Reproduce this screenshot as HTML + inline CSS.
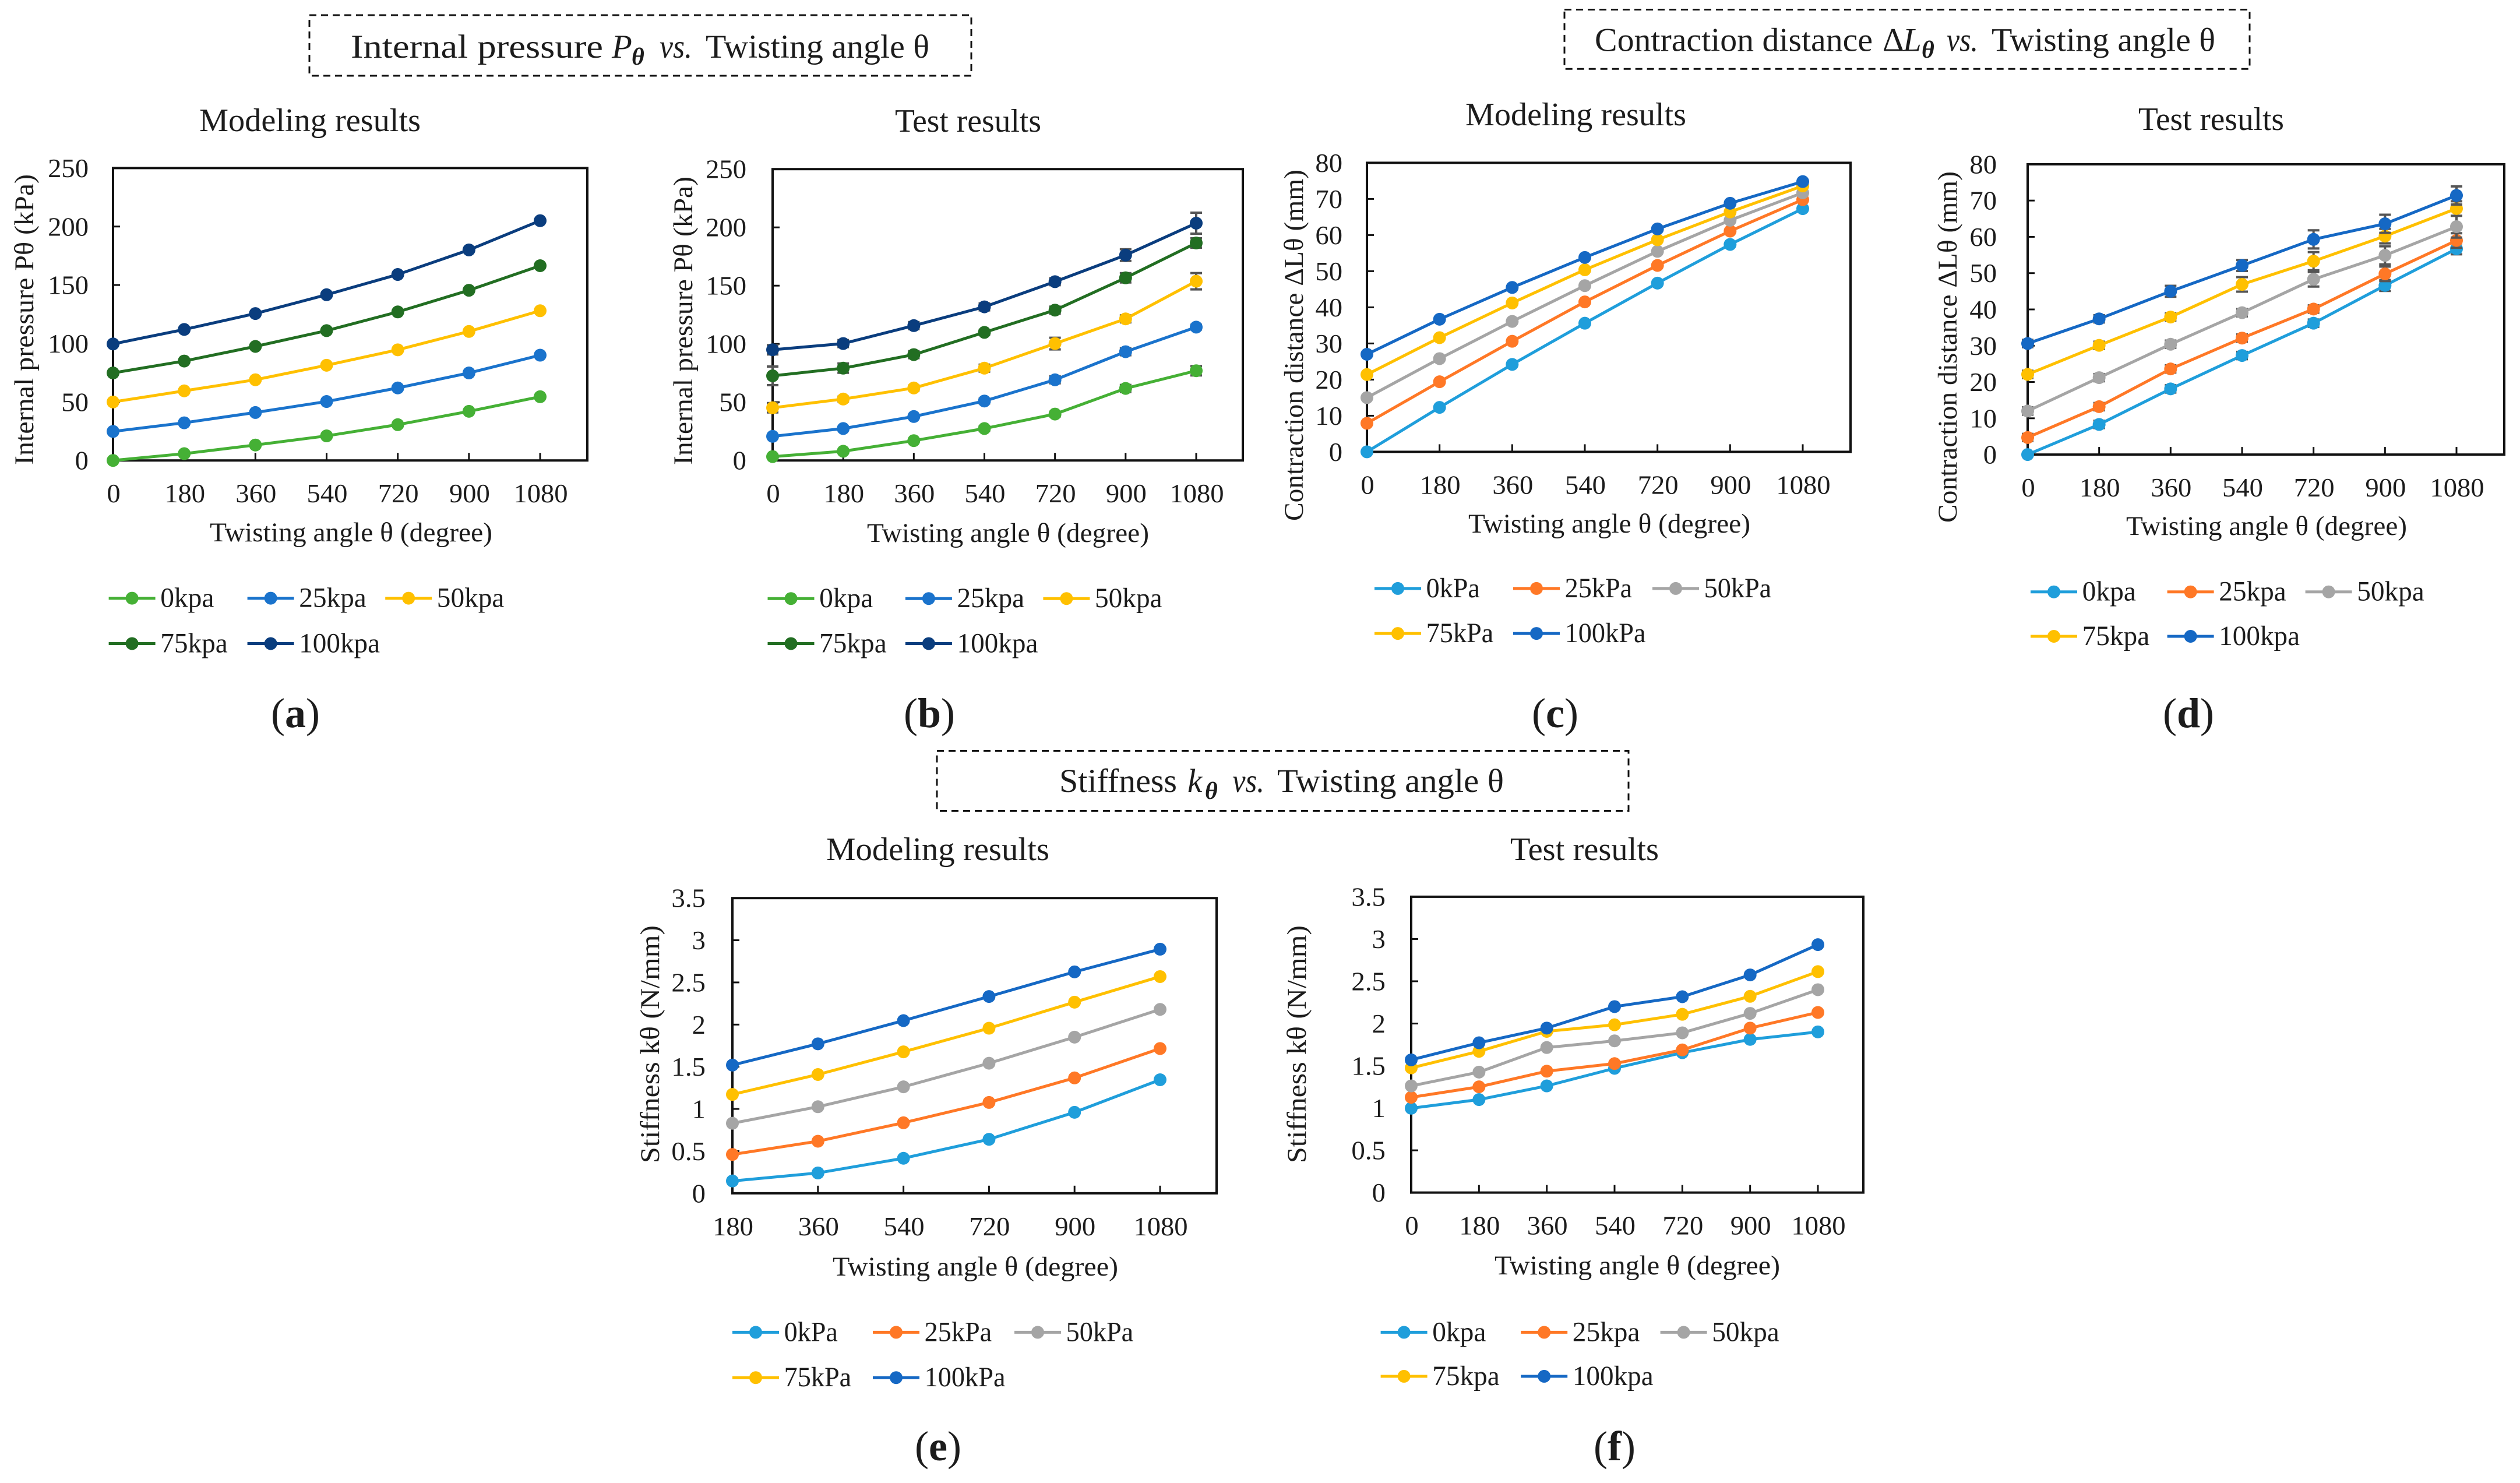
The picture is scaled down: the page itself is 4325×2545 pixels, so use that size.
<!DOCTYPE html>
<html lang="en">
<head>
<meta charset="utf-8">
<title>Internal pressure, contraction distance and stiffness vs. twisting angle</title>
<style>
html,body{margin:0;padding:0;background:#fff;}
svg{display:block;}
text{font-family:"Liberation Serif",serif;fill:#1c1c1c;}
.hd{font-size:57px;}
.sub{font-size:56px;}
.axt{font-size:47px;}
.it{font-style:italic;}
.b{font-weight:bold;}
.dash{fill:none;stroke:#111;stroke-width:3;stroke-dasharray:12 8;}
.let{font-size:72px;text-anchor:middle;}
</style>
</head>
<body>
<svg id="fig" xmlns="http://www.w3.org/2000/svg" width="4325" height="2545" viewBox="0 0 4325 2545">
<rect x="0" y="0" width="4325" height="2545" fill="#fff"/>

<rect class="dash" x="531" y="26" width="1136" height="104"/>
<g>
<text class="hd" x="602" y="99" textLength="433" lengthAdjust="spacingAndGlyphs">Internal pressure</text>
<text class="hd it" x="1050" y="99">P</text>
<text class="it b" style="font-size:42px" x="1084" y="111">θ</text>
<text class="hd it" x="1132" y="99" textLength="56" lengthAdjust="spacingAndGlyphs">vs.</text>
<text class="hd" x="1211" y="99" textLength="384" lengthAdjust="spacingAndGlyphs">Twisting angle θ</text>
</g>

<rect class="dash" x="2685" y="16.5" width="1176" height="101.7"/>
<g>
<text class="hd" x="2737" y="87.5" textLength="477" lengthAdjust="spacingAndGlyphs">Contraction distance</text>
<text class="hd" x="3231" y="87.5">Δ</text>
<text class="hd it" x="3266" y="87.5">L</text>
<text class="it b" style="font-size:42px" x="3298" y="99">θ</text>
<text class="hd it" x="3341" y="87.5" textLength="54" lengthAdjust="spacingAndGlyphs">vs.</text>
<text class="hd" x="3418" y="87.5" textLength="384" lengthAdjust="spacingAndGlyphs">Twisting angle θ</text>
</g>

<rect class="dash" x="1608" y="1288.5" width="1187" height="103"/>
<g>
<text class="hd" x="1818" y="1359" textLength="202" lengthAdjust="spacingAndGlyphs">Stiffness</text>
<text class="hd it" x="2038" y="1359">k</text>
<text class="it b" style="font-size:42px" x="2068" y="1371">θ</text>
<text class="hd it" x="2115" y="1359" textLength="55" lengthAdjust="spacingAndGlyphs">vs.</text>
<text class="hd" x="2192" y="1359" textLength="389" lengthAdjust="spacingAndGlyphs">Twisting angle θ</text>
</g>

<text class="sub" x="342" y="225" textLength="380" lengthAdjust="spacingAndGlyphs">Modeling results</text>
<text class="sub" x="1536" y="226" textLength="251" lengthAdjust="spacingAndGlyphs">Test results</text>
<text class="sub" x="2515" y="215" textLength="379" lengthAdjust="spacingAndGlyphs">Modeling results</text>
<text class="sub" x="3670" y="223" textLength="250" lengthAdjust="spacingAndGlyphs">Test results</text>
<text class="sub" x="1418" y="1476" textLength="383" lengthAdjust="spacingAndGlyphs">Modeling results</text>
<text class="sub" x="2592" y="1476" textLength="255" lengthAdjust="spacingAndGlyphs">Test results</text>

<text class="axt" x="360" y="929" textLength="485" lengthAdjust="spacingAndGlyphs">Twisting angle θ (degree)</text>
<text class="axt" x="1488" y="930" textLength="484" lengthAdjust="spacingAndGlyphs">Twisting angle θ (degree)</text>
<text class="axt" x="2520" y="914" textLength="484" lengthAdjust="spacingAndGlyphs">Twisting angle θ (degree)</text>
<text class="axt" x="3649" y="918" textLength="482" lengthAdjust="spacingAndGlyphs">Twisting angle θ (degree)</text>
<text class="axt" x="1429" y="2189" textLength="490" lengthAdjust="spacingAndGlyphs">Twisting angle θ (degree)</text>
<text class="axt" x="2565" y="2187" textLength="490" lengthAdjust="spacingAndGlyphs">Twisting angle θ (degree)</text>

<text class="axt" transform="translate(57,798) rotate(-90)" textLength="499" lengthAdjust="spacingAndGlyphs">Internal pressure Pθ (kPa)</text>
<text class="axt" transform="translate(1188,798) rotate(-90)" textLength="495" lengthAdjust="spacingAndGlyphs">Internal pressure Pθ (kPa)</text>
<text class="axt" transform="translate(2236,894) rotate(-90)" textLength="603" lengthAdjust="spacingAndGlyphs">Contraction distance ΔLθ (mm)</text>
<text class="axt" transform="translate(3358,897) rotate(-90)" textLength="603" lengthAdjust="spacingAndGlyphs">Contraction distance ΔLθ (mm)</text>
<text class="axt" transform="translate(1131,1996) rotate(-90)" textLength="408" lengthAdjust="spacingAndGlyphs">Stiffness kθ  (N/mm)</text>
<text class="axt" transform="translate(2241,1996) rotate(-90)" textLength="408" lengthAdjust="spacingAndGlyphs">Stiffness kθ  (N/mm)</text>

<text class="let" x="507" y="1248">(<tspan class="b">a</tspan>)</text>
<text class="let" x="1595" y="1248">(<tspan class="b">b</tspan>)</text>
<text class="let" x="2669" y="1248">(<tspan class="b">c</tspan>)</text>
<text class="let" x="3756" y="1248">(<tspan class="b">d</tspan>)</text>
<text class="let" x="1610" y="2506">(<tspan class="b">e</tspan>)</text>
<text class="let" x="2771" y="2506">(<tspan class="b">f</tspan>)</text>
</svg>

<script>
// Shared categories and tick labels
const anglesFull = ['0','180','360','540','720','900','1080'];
const anglesFrom180 = ['180','360','540','720','900','1080'];
const pressureTicks = [0,50,100,150,200,250];
const contractionTicks = [0,10,20,30,40,50,60,70,80];
const stiffnessTicks = [0,0.5,1,1.5,2,2.5,3,3.5];
const lowerKpaNames = ['0kpa','25kpa','50kpa','75kpa','100kpa'];
const upperKPaNames = ['0kPa','25kPa','50kPa','75kPa','100kPa'];

// Panel (a) internal pressure, modeling
const a0 = [0,5.8,13.2,21,30.6,42,54.5];
const a25 = [24.8,32.2,41,50.4,62,74.8,90];
const a50 = [50,59.5,69,81.4,94.6,110.3,128];
const a75 = [74.8,85,97.5,111,127,145.5,166.5];
const a100 = [99.6,112,125.6,141.7,159,180,205];

// Panel (b) internal pressure, test
const b0 = [3.3,7.9,17,27.4,39.8,61.8,77];
const b25 = [20.7,27.4,37.7,51,69.2,93.3,114.4];
const b50 = [45.2,52.7,62.2,79.2,100.3,121.5,153.8];
const b75 = [72.6,79.2,90.8,109.9,129,156.7,186.6];
const b100 = [95,100.3,115.7,131.8,153.4,176.2,203.6];
const bErr0 = [1,1,1,2,2,3,4];
const bErr25 = [1,1,1,2,3,3,2];
const bErr50 = [4,2,2,3,5,3,7];
const bErr75 = [8,4,3,2,3,4,4];
const bErr100 = [4,3,3,3,3,5,9];

// Panel (c) contraction distance, modeling
const c0 = [0,12.3,24.2,35.6,46.7,57.4,67.3];
const c25 = [7.9,19.4,30.6,41.5,51.6,61.1,69.8];
const c50 = [15,25.8,36.1,46,55.5,64.1,71.7];
const c75 = [21.4,31.6,41.2,50.4,58.7,66.4,73.6];
const c100 = [27,36.7,45.5,53.8,61.7,68.8,74.8];

// Panel (d) contraction distance, test
const d0 = [0,8.3,18.1,27.3,36.2,46.6,56.7];
const d25 = [4.7,13.2,23.6,32.1,40.1,49.8,59];
const d50 = [12,21.2,30.4,39.1,48.3,54.9,62.8];
const d75 = [22.1,30.1,37.9,46.9,53.3,60.2,67.8];
const d100 = [30.6,37.4,45,52.1,59.3,63.6,71.4];
const dErr0 = [0,1,1,1,1,1.5,1.5];
const dErr25 = [1,1,1,1,1,2,2];
const dErr50 = [1,1,1,1,2,2.5,3];
const dErr75 = [1,1,1,2,2.5,2,2];
const dErr100 = [1,1,1.5,1.5,2.5,2.5,2.5];

// Panel (e) stiffness, modeling
const e0 = [0.146,0.241,0.415,0.64,0.96,1.346];
const e25 = [0.46,0.617,0.836,1.077,1.368,1.716];
const e50 = [0.83,1.026,1.262,1.542,1.851,2.18];
const e75 = [1.172,1.408,1.677,1.957,2.266,2.569];
const e100 = [1.52,1.772,2.047,2.333,2.625,2.894];

// Panel (f) stiffness, test
const f0 = [0.998,1.1,1.262,1.47,1.655,1.812,1.901];
const f25 = [1.127,1.251,1.436,1.526,1.688,1.946,2.131];
const f50 = [1.262,1.425,1.716,1.795,1.89,2.12,2.4];
const f75 = [1.475,1.671,1.907,1.985,2.109,2.322,2.614];
const f100 = [1.57,1.772,1.946,2.2,2.317,2.575,2.933];

const greenPalette = ['#45B035','#1A73CC','#FFC000','#226E22','#0A3D7E'];
const officePalette = ['#1F9EDB','#FF7826','#A5A5A5','#FFC000','#1568C4'];

const panels = [
 {id:'a',cats:anglesFull,ticks:pressureTicks,yMax:250,left:194,right:1008,top:288.4,bottom:790.2,last:927,yLabelX:152,
  series:[a0,a25,a50,a75,a100],errs:null,colors:greenPalette,names:lowerKpaNames,
  legX:186.6,legY:[1026.6,1104.5],legCols:[0,238,474.6,0,238]},
 {id:'b',cats:anglesFull,ticks:pressureTicks,yMax:250,left:1326,right:2133,top:290.2,bottom:790.2,last:2053,yLabelX:1281,
  series:[b0,b25,b50,b75,b100],errs:[bErr0,bErr25,bErr50,bErr75,bErr100],colors:greenPalette,names:lowerKpaNames,
  legX:1317.5,legY:[1027.2,1104.5],legCols:[0,236.4,472.9,0,236.4]},
 {id:'c',cats:anglesFull,ticks:contractionTicks,yMax:80,left:2346,right:3176,top:279.4,bottom:775.4,last:3094,yLabelX:2304,
  series:[c0,c25,c50,c75,c100],errs:null,colors:officePalette,names:upperKPaNames,
  legX:2359,legY:[1009.9,1087.1],legCols:[0,238,477,0,238]},
 {id:'d',cats:anglesFull,ticks:contractionTicks,yMax:80,left:3480,right:4298,top:281.9,bottom:780.1,last:4216,yLabelX:3427,
  series:[d0,d25,d50,d75,d100],errs:[dErr0,dErr25,dErr50,dErr75,dErr100],colors:officePalette,names:lowerKpaNames,
  legX:3485,legY:[1015.7,1092],legCols:[0,234.6,471.6,0,234.6]},
 {id:'e',cats:anglesFrom180,ticks:stiffnessTicks,yMax:3.5,left:1257,right:2088,top:1541.2,bottom:2047.8,last:1991,yLabelX:1211,
  series:[e0,e25,e50,e75,e100],errs:null,colors:officePalette,names:upperKPaNames,
  legX:1257,legY:[2286.4,2364.2],legCols:[0,241,484,0,241]},
 {id:'f',cats:anglesFull,ticks:stiffnessTicks,yMax:3.5,left:2422,right:3198,top:1538.9,bottom:2046.6,last:3120,yLabelX:2378,
  series:[f0,f25,f50,f75,f100],errs:null,colors:officePalette,names:lowerKpaNames,
  legX:2369.6,legY:[2286.4,2361.9],legCols:[0,240.6,480,0,240.6]}
];

const NS = 'http://www.w3.org/2000/svg';
const fig = document.getElementById('fig');

function shape(parent, tag, attrs){
  const node = document.createElementNS(NS, tag);
  for (const k in attrs) node.setAttribute(k, attrs[k]);
  parent.appendChild(node);
  return node;
}
function numWidth(str){
  let w = 0;
  for (const ch of str) w += (ch === '.') ? 12 : 23.3;
  return w;
}
function drawPanel(p){
  const xOf = i => p.left + i * (p.last - p.left) / (p.cats.length - 1);
  const yOf = v => p.bottom - v / p.yMax * (p.bottom - p.top);

  const chart = shape(fig, 'g', {});
  
  

  const frame = shape(chart, 'rect', {x:p.left,y:p.top,width:p.right-p.left,height:p.bottom-p.top,fill:'none',stroke:'#111','stroke-width':4});
  
  

  p.ticks.forEach(t => {
    const y = yOf(t);
    if (t !== 0 && t !== p.yMax) {
      const tick = shape(chart, 'line', {x1:p.left,x2:p.left+12,y1:y,y2:y,stroke:'#111','stroke-width':3});
      
      
    }
    const lab = shape(chart, 'text', {x:p.yLabelX,y:y+15.5,'text-anchor':'end','font-size':46,textLength:numWidth(String(t)),lengthAdjust:'spacingAndGlyphs'});
    lab.textContent = String(t);
    
    
  });

  p.cats.forEach((c, i) => {
    const x = xOf(i);
    if (i > 0) {
      const tick = shape(chart, 'line', {x1:x,x2:x,y1:p.bottom,y2:p.bottom-13,stroke:'#111','stroke-width':3});
      
      
    }
    const lab = shape(chart, 'text', {x:x+1,y:p.bottom+72,'text-anchor':'middle','font-size':46,textLength:numWidth(c),lengthAdjust:'spacingAndGlyphs'});
    lab.textContent = c;
    
    
  });

  p.series.forEach((vals, s) => {
    const col = p.colors[s];
    const grp = shape(chart, 'g', {});
    
    

    if (p.errs) {
      vals.forEach((v, i) => {
        const e = p.errs[s][i];
        if (!e) return;
        const x = xOf(i), y1 = yOf(v - e), y2 = yOf(v + e);
        const bar = shape(grp, 'path', {d:`M${x-10} ${y1}H${x+10}M${x} ${y1}V${y2}M${x-10} ${y2}H${x+10}`,fill:'none',stroke:'#555','stroke-width':4});
        
        
      });
    }

    const pts = vals.map((v, i) => xOf(i) + ',' + yOf(v)).join(' ');
    const line = shape(grp, 'polyline', {points:pts,fill:'none',stroke:col,'stroke-width':5,'stroke-linejoin':'round'});
    
    

    vals.forEach((v, i) => {
      const dot = shape(grp, 'circle', {cx:xOf(i),cy:yOf(v),r:11,fill:col});
      
      
    });

    const lx = p.legX + p.legCols[s];
    const ly = p.legY[s < 3 ? 0 : 1];
    const entry = shape(chart, 'g', {});
    
    
    const key = shape(entry, 'line', {x1:lx,x2:lx+80,y1:ly,y2:ly,stroke:col,'stroke-width':5});
    
    
    const keyDot = shape(entry, 'circle', {cx:lx+40,cy:ly,r:11,fill:col});
    
    
    const name = p.names[s];
    const lw = 23.3 * (name.length - 3) + 69;
    const txt = shape(entry, 'text', {x:lx+88.6,y:ly+15,'font-size':48,textLength:lw,lengthAdjust:'spacingAndGlyphs'});
    txt.textContent = name;
    
    
  });
}
panels.forEach(drawPanel);
</script>
</body>
</html>
